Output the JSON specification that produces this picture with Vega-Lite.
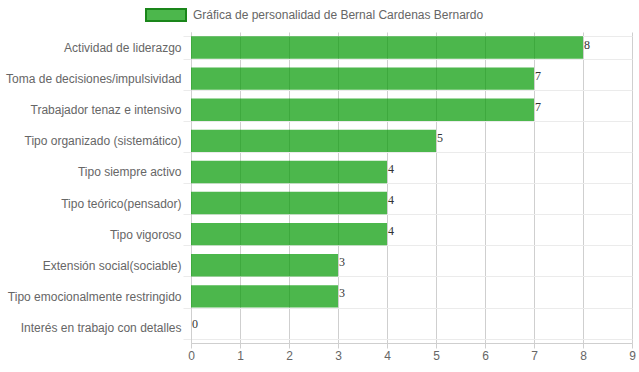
{
  "$schema": "https://vega.github.io/schema/vega-lite/v6.json",
  "autosize": "none",
  "width": 441,
  "height": 311,
  "padding": {"left": 191, "top": 32, "right": 7, "bottom": 29},
  "background": "white",
  "data": {
    "values": [
      {"rasgo": "Actividad de liderazgo", "valor": 8, "serie": "Gráfica de personalidad de Bernal Cardenas Bernardo"},
      {"rasgo": "Toma de decisiones/impulsividad", "valor": 7, "serie": "Gráfica de personalidad de Bernal Cardenas Bernardo"},
      {"rasgo": "Trabajador tenaz e intensivo", "valor": 7, "serie": "Gráfica de personalidad de Bernal Cardenas Bernardo"},
      {"rasgo": "Tipo organizado (sistemático)", "valor": 5, "serie": "Gráfica de personalidad de Bernal Cardenas Bernardo"},
      {"rasgo": "Tipo siempre activo", "valor": 4, "serie": "Gráfica de personalidad de Bernal Cardenas Bernardo"},
      {"rasgo": "Tipo teórico(pensador)", "valor": 4, "serie": "Gráfica de personalidad de Bernal Cardenas Bernardo"},
      {"rasgo": "Tipo vigoroso", "valor": 4, "serie": "Gráfica de personalidad de Bernal Cardenas Bernardo"},
      {"rasgo": "Extensión social(sociable)", "valor": 3, "serie": "Gráfica de personalidad de Bernal Cardenas Bernardo"},
      {"rasgo": "Tipo emocionalmente restringido", "valor": 3, "serie": "Gráfica de personalidad de Bernal Cardenas Bernardo"},
      {"rasgo": "Interés en trabajo con detalles", "valor": 0, "serie": "Gráfica de personalidad de Bernal Cardenas Bernardo"}
    ]
  },
  "config": {
    "view": {"stroke": null},
    "font": "Liberation Sans"
  },
  "encoding": {
    "y": {
      "field": "rasgo",
      "type": "nominal",
      "sort": null,
      "scale": {"paddingInner": 0.28, "paddingOuter": 0.14},
      "axis": {
        "title": null,
        "tickBand": "extent",
        "grid": true,
        "gridColor": "#ebebeb",
        "gridWidth": 1,
        "domain": true,
        "domainColor": "#cfcfcf",
        "tickColor": "#ebebeb",
        "tickSize": 8,
        "labelPadding": 2,
        "labelFont": "Liberation Sans",
        "labelFontSize": 12,
        "labelColor": "#666666",
        "labelLimit": 300
      }
    }
  },
  "layer": [
    {
      "mark": {"type": "bar", "opacity": 1},
      "encoding": {
        "x": {
          "field": "valor",
          "type": "quantitative",
          "scale": {"domain": [0, 9], "nice": false},
          "axis": {
            "title": null,
            "values": [0, 1, 2, 3, 4, 5, 6, 7, 8, 9],
            "grid": true,
            "gridColor": "#cfcfcf",
            "domainColor": "#cfcfcf",
            "tickColor": "#cfcfcf",
            "tickSize": 5,
            "labelPadding": 2,
            "labelFont": "Liberation Sans",
            "labelFontSize": 12,
            "labelColor": "#666666",
            "labelFlush": false
          }
        },
        "color": {
          "field": "serie",
          "type": "nominal",
          "scale": {"range": ["rgba(0,153,0,0.7)"]},
          "legend": {
            "title": null,
            "orient": "none",
            "legendX": -46,
            "legendY": -38,
            "symbolType": "M-1,-0.3h2v0.6h-2z",
            "symbolSize": 1600,
            "symbolStrokeColor": "#1a861a",
            "symbolStrokeWidth": 2,
            "symbolOpacity": 1,
            "labelFont": "Liberation Sans",
            "labelFontSize": 12,
            "labelColor": "#666666",
            "labelOffset": 6,
            "labelLimit": 400
          }
        }
      }
    },
    {
      "mark": {"type": "text", "align": "left", "baseline": "middle", "dx": 1, "dy": -3, "font": "Liberation Serif", "fontSize": 12, "color": "#333333"},
      "encoding": {
        "x": {"field": "valor", "type": "quantitative"},
        "text": {"field": "valor", "type": "quantitative"}
      }
    }
  ]
}
